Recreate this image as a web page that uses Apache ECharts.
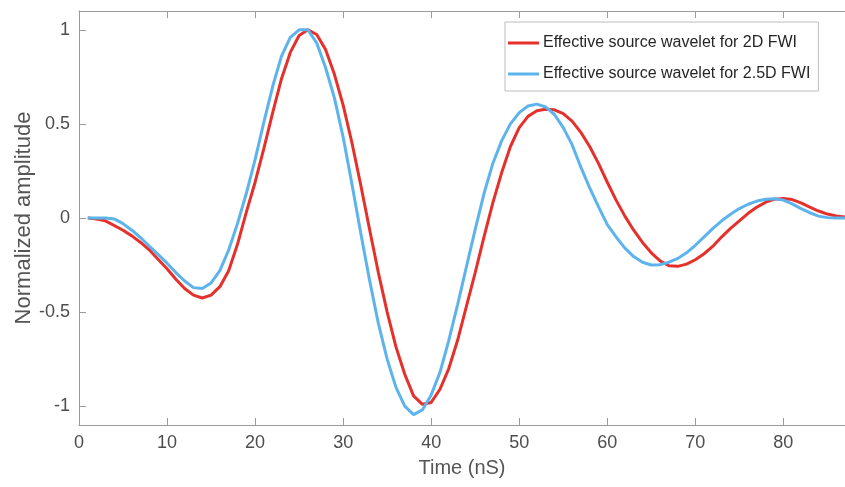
<!DOCTYPE html>
<html>
<head>
<meta charset="utf-8">
<title>Effective source wavelets</title>
<script src="https://cdn.jsdelivr.net/npm/echarts@6/dist/echarts.min.js"></script>
<style>
  html, body { margin: 0; padding: 0; background: #ffffff; }
  #chart { width: 845px; height: 487px; }
</style>
</head>
<body>
<div id="chart"></div>
<script>
// Sample times in nS
const timeNs = [
  1, 2, 3, 4, 5, 6, 7, 8, 9, 10, 11, 12, 13, 14, 15, 16, 17, 18, 19, 20,
  21, 22, 23, 24, 25, 26, 27, 28, 29, 30, 31, 32, 33, 34, 35, 36, 37, 38, 39, 40,
  41, 42, 43, 44, 45, 46, 47, 48, 49, 50, 51, 52, 53, 54, 55, 56, 57, 58, 59, 60,
  61, 62, 63, 64, 65, 66, 67, 68, 69, 70, 71, 72, 73, 74, 75, 76, 77, 78, 79, 80,
  81, 82, 83, 84, 85, 86, 87
];

// Normalized amplitude of the effective source wavelet for 2D FWI
const wavelet2D = [
  0, -0.005, -0.015, -0.04, -0.065, -0.095, -0.13, -0.17, -0.22, -0.27,
  -0.325, -0.375, -0.41, -0.425, -0.41, -0.365, -0.28, -0.14, 0.03, 0.19,
  0.37, 0.56, 0.74, 0.88, 0.97, 1.0, 0.975, 0.895, 0.765, 0.6,
  0.4, 0.175, -0.06, -0.29, -0.5, -0.685, -0.83, -0.945, -0.99, -0.98,
  -0.91, -0.8, -0.65, -0.47, -0.29, -0.1, 0.08, 0.24, 0.38, 0.48,
  0.54, 0.57, 0.578, 0.575, 0.555, 0.515, 0.455, 0.38, 0.29, 0.19,
  0.095, 0.01, -0.065, -0.13, -0.185, -0.228, -0.254, -0.257, -0.245, -0.222,
  -0.19, -0.15, -0.1, -0.055, -0.015, 0.025, 0.058, 0.084, 0.1, 0.104,
  0.098, 0.08, 0.058, 0.037, 0.021, 0.011, 0.005
];

// Normalized amplitude of the effective source wavelet for 2.5D FWI
const wavelet25D = [
  0, 0, 0, -0.005, -0.03, -0.065, -0.105, -0.15, -0.195, -0.24,
  -0.29, -0.335, -0.37, -0.375, -0.345, -0.28, -0.17, -0.03, 0.13, 0.31,
  0.51, 0.7, 0.86, 0.96, 1.0, 1.0, 0.93, 0.8, 0.64, 0.43,
  0.18, -0.08, -0.33, -0.56, -0.75, -0.9, -1.0, -1.045, -1.02, -0.94,
  -0.82, -0.65, -0.46, -0.26, -0.06, 0.13, 0.29, 0.41, 0.5, 0.56,
  0.595, 0.605, 0.59, 0.55, 0.48, 0.39, 0.27, 0.16, 0.06, -0.035,
  -0.1, -0.16, -0.205, -0.235, -0.25, -0.248, -0.235, -0.215, -0.185, -0.145,
  -0.1, -0.055, -0.015, 0.02, 0.05, 0.073, 0.09, 0.1, 0.102, 0.095,
  0.075, 0.05, 0.028, 0.01, 0.002, 0, 0
];

// Axis ticks
const xTicks = [0, 10, 20, 30, 40, 50, 60, 70, 80];
const yTicks = [-1, -0.5, 0, 0.5, 1];

const seriesNames = [
  'Effective source wavelet for 2D FWI',
  'Effective source wavelet for 2.5D FWI'
];

const FONT = '"Liberation Sans", Arial, Helvetica, sans-serif';
const AXIS_COLOR = '#9b9b9b';
const LABEL_COLOR = '#4d4d4d';

function pairs(xs, ys) {
  return xs.map((x, i) => [x, ys[i]]);
}

const chart = echarts.init(document.getElementById('chart'), null, { renderer: 'canvas' });

chart.setOption({
  backgroundColor: '#ffffff',
  animation: false,
  grid: { left: 79, right: 0, top: 11, bottom: 62, containLabel: false, outerBoundsMode: 'none' },
  legend: {
    orient: 'vertical',
    left: 505,
    top: 22,
    padding: [12, 8, 8, 3],
    itemGap: 13,
    itemWidth: 31,
    itemHeight: 3,
    icon: 'rect',
    backgroundColor: '#ffffff',
    borderColor: '#bdbdbd',
    borderWidth: 1,
    borderRadius: 0,
    data: seriesNames,
    textStyle: { fontFamily: FONT, fontSize: 16, color: '#262626', lineHeight: 18, padding: [0, 0, 0, -1] }
  },
  xAxis: [
    {
      type: 'value',
      min: 0,
      max: 87,
      position: 'bottom',
      name: 'Time (nS)',
      nameLocation: 'middle',
      nameGap: 33,
      nameMoveOverlap: false,
      nameTextStyle: { fontFamily: FONT, fontSize: 20, color: '#555555' },
      axisLine: { show: true, onZero: false, lineStyle: { color: AXIS_COLOR, width: 1 } },
      axisTick: { show: true, inside: true, length: 7, lineStyle: { color: AXIS_COLOR }, customValues: xTicks },
      axisLabel: { fontFamily: FONT, fontSize: 18, color: LABEL_COLOR, margin: 9, customValues: xTicks },
      splitLine: { show: false }
    },
    {
      type: 'value',
      min: 0,
      max: 87,
      position: 'top',
      axisLine: { show: true, onZero: false, lineStyle: { color: AXIS_COLOR, width: 1 } },
      axisTick: { show: true, inside: true, length: 7, lineStyle: { color: AXIS_COLOR }, customValues: xTicks },
      axisLabel: { show: false },
      splitLine: { show: false }
    }
  ],
  yAxis: {
    type: 'value',
    min: -1.1,
    max: 1.1,
    name: 'Normalized amplitude',
    nameLocation: 'middle',
    nameGap: 44,
    nameMoveOverlap: false,
    nameTextStyle: { fontFamily: FONT, fontSize: 22, color: '#555555' },
    axisLine: { show: true, onZero: false, lineStyle: { color: AXIS_COLOR, width: 1 } },
    axisTick: { show: true, inside: true, length: 7, lineStyle: { color: AXIS_COLOR }, customValues: yTicks },
    axisLabel: { fontFamily: FONT, fontSize: 18, color: LABEL_COLOR, margin: 9, customValues: yTicks },
    splitLine: { show: false }
  },
  series: [
    {
      name: seriesNames[0],
      type: 'line',
      xAxisIndex: 0,
      data: pairs(timeNs, wavelet2D),
      showSymbol: false,
      symbol: 'none',
      smooth: false,
      color: '#e5312c',
      lineStyle: { color: '#e5312c', width: 3 },
      z: 2
    },
    {
      name: seriesNames[1],
      type: 'line',
      xAxisIndex: 0,
      data: pairs(timeNs, wavelet25D),
      showSymbol: false,
      symbol: 'none',
      smooth: false,
      color: '#5db4ec',
      lineStyle: { color: '#5db4ec', width: 3 },
      z: 3
    }
  ]
});
</script>
</body>
</html>
